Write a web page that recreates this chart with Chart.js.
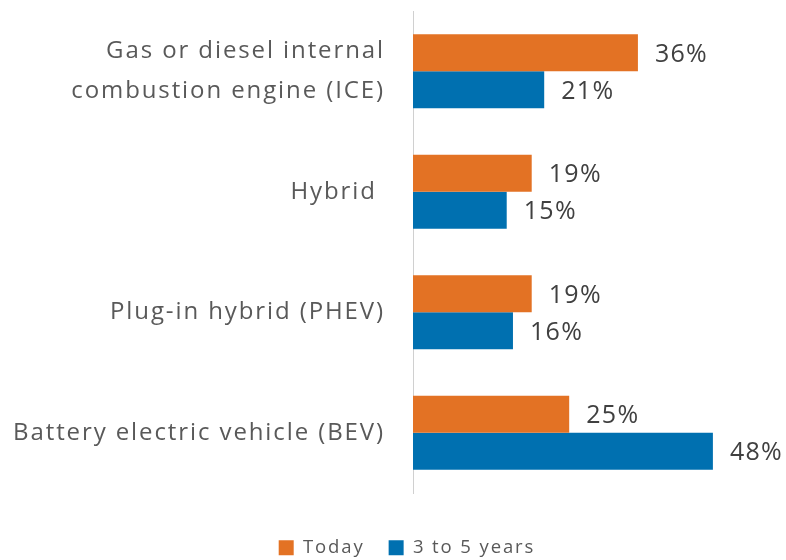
<!DOCTYPE html>
<html>
<head>
<meta charset="utf-8">
<script src="https://cdn.jsdelivr.net/npm/chart.js@4"></script>
<style>
  html, body { margin: 0; padding: 0; background: #fff; }
  #wrap { width: 786px; height: 560px; }
</style>
</head>
<body>
<div id="wrap"><canvas id="grafico"></canvas></div>
<script>
const categorias = [
  ["Gas or diesel internal", "combustion engine (ICE)"],
  "Hybrid ",
  "Plug-in hybrid (PHEV)",
  "Battery electric vehicle (BEV)"
];
const hoje = [36, 19, 19, 25];
const tresACinco = [21, 15, 16, 48];
const nomesSeries = ["Today", "3 to 5 years"];

const fonte = "'Open Sans', Lato, sans-serif";

// texto do original é bem espaçado
const espacamento = {
  id: 'espacamento',
  beforeLayout(chart) { chart.ctx.letterSpacing = "1.9px"; },
  beforeDraw(chart) { chart.ctx.letterSpacing = "1.9px"; }
};

// rótulos de valor à direita das barras
const rotulos = {
  id: 'rotulos',
  afterDatasetsDraw(chart) {
    const ctx = chart.ctx;
    ctx.save();
    ctx.letterSpacing = "1.3px";
    ctx.font = "25px " + fonte;
    ctx.fillStyle = "#404040";
    ctx.textAlign = "left";
    ctx.textBaseline = "middle";
    chart.data.datasets.forEach((ds, i) => {
      chart.getDatasetMeta(i).data.forEach((bar, j) => {
        ctx.fillText(ds.data[j] + "%", bar.x + 17, bar.y + 2);
      });
    });
    ctx.restore();
  }
};

// legenda um pouco mais baixa e deslocada como no original
const ajusteLegenda = {
  id: 'ajusteLegenda',
  beforeInit(chart) {
    const fit = chart.legend.fit;
    chart.legend.fit = function () {
      fit.call(this);
      this.height -= 7;
    };
  },
  afterLayout(chart) {
    chart.legend.left += 14;
    chart.legend.right += 14;
  }
};

new Chart(document.getElementById('grafico'), {
  type: 'bar',
  data: {
    labels: categorias,
    datasets: [
      { label: nomesSeries[0], data: hoje, backgroundColor: "#E37224" },
      { label: nomesSeries[1], data: tresACinco, backgroundColor: "#0070B0" }
    ]
  },
  options: {
    indexAxis: 'y',
    responsive: true,
    maintainAspectRatio: false,
    animation: false,
    categoryPercentage: 0.614,
    barPercentage: 1,
    layout: { padding: { top: 11, left: 0, right: 0, bottom: 0 } },
    scales: {
      x: {
        min: 0,
        max: 59.7,
        grid: { display: false, drawTicks: false },
        border: { display: false },
        ticks: { display: false },
        afterFit(scale) { scale.height = 21.5; }
      },
      y: {
        grid: { display: false, drawTicks: false },
        border: { display: true, color: "#d0d0d0", width: 1 },
        ticks: {
          color: "#595959",
          padding: 28,
          font: { family: fonte, size: 24, lineHeight: 1.65 }
        },
        afterFit(scale) {
          scale.width = 413;
          scale.paddingTop = 0;
          scale.paddingBottom = 0;
        }
      }
    },
    plugins: {
      tooltip: { enabled: false },
      legend: {
        position: 'bottom',
        labels: {
          color: "#595959",
          boxWidth: 15,
          boxHeight: 15,
          padding: 24,
          font: { family: fonte, size: 18.5 }
        }
      }
    }
  },
  plugins: [espacamento, rotulos, ajusteLegenda]
});
</script>
</body>
</html>
